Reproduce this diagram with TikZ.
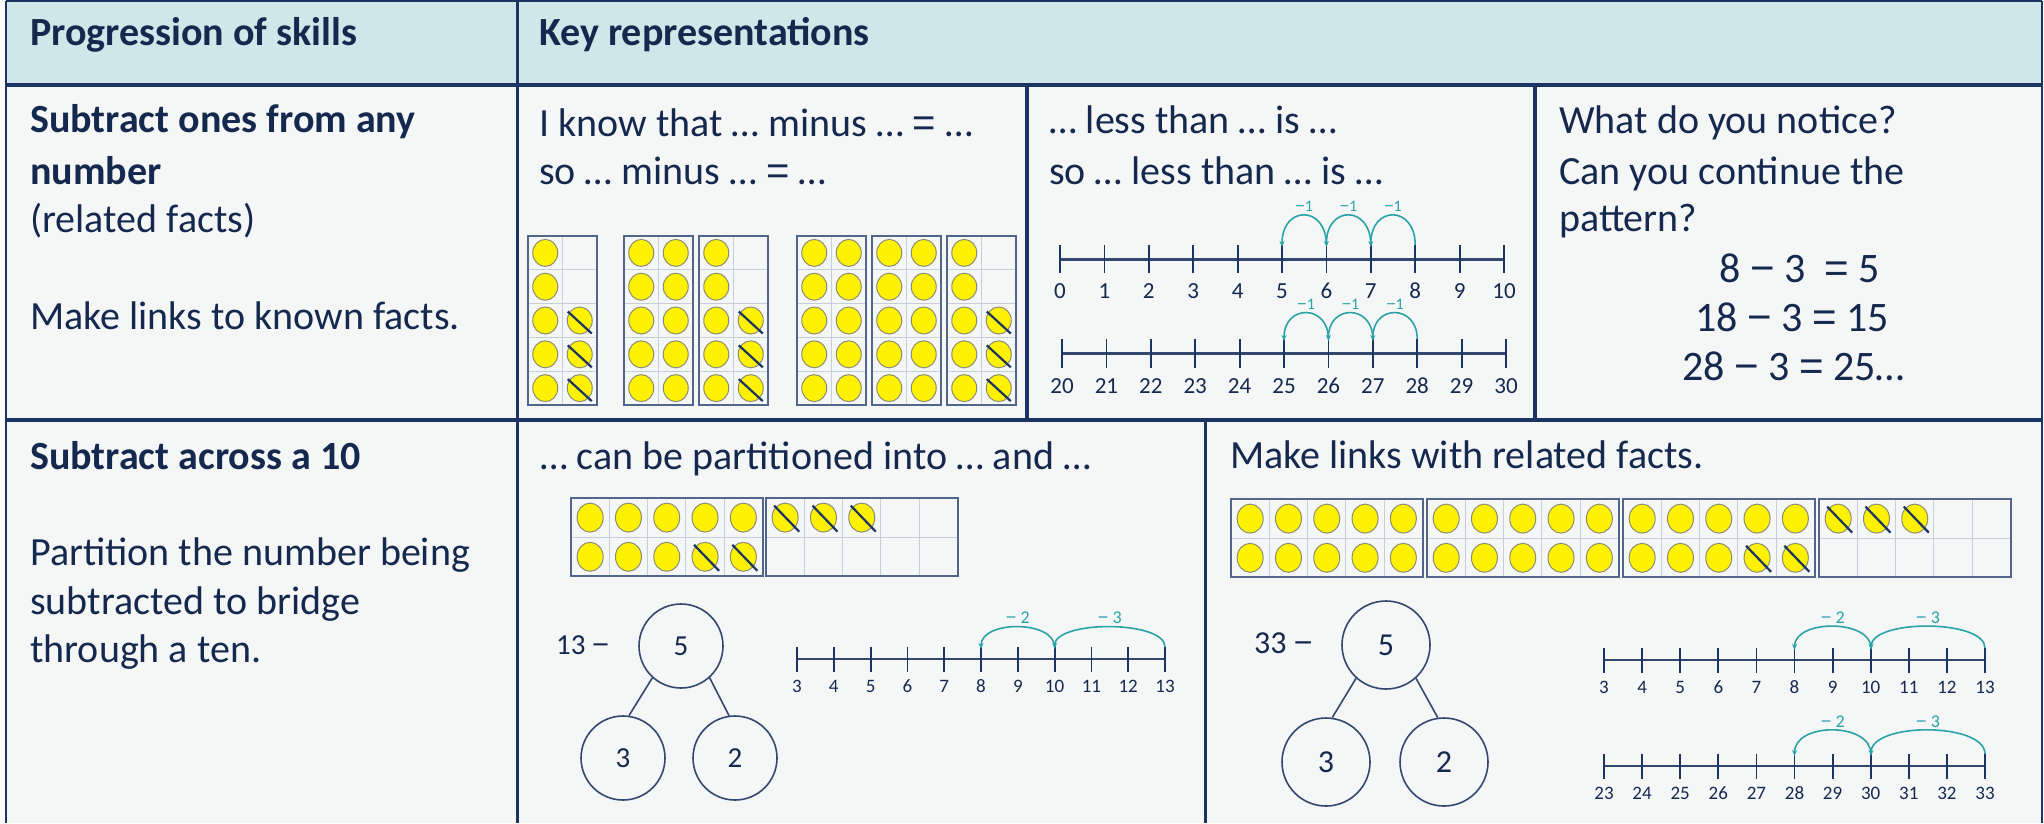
\documentclass[tikz,border=0pt]{standalone}
\usepackage{fontspec}
\setmainfont{Carlito}
\newfontfamily\symfont{Liberation Sans}
\usetikzlibrary{arrows.meta}
\definecolor{hdrfill}{HTML}{CFE7E8}
\definecolor{bodyfill}{HTML}{F5F7F7}
\definecolor{rulec}{HTML}{1C3461}
\definecolor{inkc}{HTML}{15294F}
\definecolor{jumpc}{HTML}{2AA3A6}
\definecolor{framec}{HTML}{52668C}
\definecolor{gridc}{HTML}{C6CDD8}
\definecolor{nlc}{HTML}{34486F}
\definecolor{dotedge}{HTML}{8C8C74}
\newcommand\fsz[1]{\fontsize{#1}{#1}\selectfont}
\newcommand\mns{{\symfont −}}
\newcommand\eqs{{\symfont =}}

% row-1 ten frames (vertical 2 x 5)
\newcommand\frameA[2]{\draw[gridc,line width=1] (#1+34.5,#2) -- ++(0,169) foreach \j in {1,...,4} {(#1,#2+\j*33.8) -- ++(69,0)}; \draw[framec,line width=2] (#1,#2) rectangle ++(69,169);}
\newcommand\dotA[4]{\path[counter] (#1+17.25+#3*34.5,#2+16.9+#4*33.8) ellipse[x radius=12.5pt,y radius=13.5pt];}
\newcommand\xdotA[4]{\dotA{#1}{#2}{#3}{#4}\draw[crossln] (#1+17.25+#3*34.5-12,#2+16.9+#4*33.8-9) -- ++(24,22);}
% row-2 ten frames (horizontal 5 x 2)
\newcommand\frameB[2]{\draw[gridc,line width=1] foreach \j in {1,...,4} {(#1+\j*38.3,#2) -- ++(0,78.4)} (#1,#2+39.2) -- ++(191.5,0); \draw[framec,line width=2] (#1,#2) rectangle ++(191.5,78.4);}
\newcommand\dotB[4]{\path[counter] (#1+19.15+#3*38.3,#2+19.6+#4*39.2) ellipse[x radius=13pt,y radius=14.5pt];}
\newcommand\xdotB[4]{\dotB{#1}{#2}{#3}{#4}\draw[crossln] (#1+19.15+#3*38.3-11,#2+19.6+#4*39.2-12) -- ++(25,26);}
% number line: x0, y, dx, tick half, first value, label offset, label size, name prefix, line width
\newcommand\nline[9]{%
  \draw[nlc,line width=#9] (#1,#2) -- (#1+10*#3,#2);
  \foreach \i [evaluate=\i as \v using int(#5+\i)] in {0,...,10} {%
    \draw[rulec,line width=1.8] (#1+\i*#3,#2-#4) -- (#1+\i*#3,#2+#4);
    \node[anchor=base,inner sep=0,text=inkc,font=\fsz{#7}] (#8\v) at (#1+\i*#3,#2+#6) {\v};}}
% jump: x start, x end, y base, control y, label, label baseline, label size
\newcommand\jump[7]{%
  \draw[jumpln] (#1,#3) .. controls (#1,#4) and (#2,#4) .. (#2,#3+2);
  \node[anchor=base,inner sep=0,text=jumpc,font=\fsz{#7}] at ({(#1+#2)/2},#6) {#5};}

\begin{document}
\begin{tikzpicture}[x=1pt,y=-1pt,
  txt/.style={anchor=base west,inner sep=0,text=inkc,font=\fsz{40}},
  btxt/.style={txt,font=\fsz{40}\bfseries},
  eqn/.style={anchor=base west,inner sep=0,text=inkc,font=\fsz{42}},
  counter/.style={fill=yellow,draw=dotedge,line width=1},
  crossln/.style={rulec,line width=2.2},
  jumpln/.style={jumpc,line width=1.6,-{Stealth[length=6pt,width=5pt]}},
  bond/.style={circle,draw=nlc,line width=1.6,fill=bodyfill,text=inkc,inner sep=0},
  bondln/.style={nlc,line width=1.6}]
\useasboundingbox (0,0) rectangle (2044,823);
% backgrounds
\fill[hdrfill] (6,1) rectangle (2042,85);
\fill[bodyfill] (6,85) rectangle (2042,823);
% rules
\draw[rulec,line width=2] (6,1) -- (2042,1);
\draw[rulec,line width=2.5] (6,1) -- (6,823);
\draw[rulec,line width=1.5] (2042,1) -- (2042,823);
\draw[rulec,line width=4] (6,85) -- (2042,85);
\draw[rulec,line width=4] (6,420) -- (2042,420);
\draw[rulec,line width=3] (517,1) -- (517,823);
\draw[rulec,line width=4] (1027,85) -- (1027,420);
\draw[rulec,line width=3.5] (1535,85) -- (1535,420);
\draw[rulec,line width=3] (1205,420) -- (1205,823);

% header
\node[btxt] (h1) at (30,45) {Progression of skills};
\node[btxt] (h2) at (539,45) {Key representations};

% row 1 left
\node[btxt] (a1) at (30,132) {Subtract ones from any};
\node[btxt] (a2) at (30,184) {number};
\node[txt] (a3) at (30,232) {(related facts)};
\node[txt] (a4) at (30,329) {Make links to known facts.};

% row 1 box 2
\node[txt] (b1) at (539,136) {I know that … minus … \eqs{} …};
\node[txt] (b2) at (539,184) {so … minus … \eqs{} …};
\frameA{528}{236}
\foreach \r in {0,...,4} {\dotA{528}{236}{0}{\r}}
\foreach \r in {2,3,4} {\xdotA{528}{236}{1}{\r}}
\frameA{624}{236}
\foreach \c in {0,1} {\foreach \r in {0,...,4} {\dotA{624}{236}{\c}{\r}}}
\frameA{699}{236}
\foreach \r in {0,...,4} {\dotA{699}{236}{0}{\r}}
\foreach \r in {2,3,4} {\xdotA{699}{236}{1}{\r}}
\frameA{797}{236}
\foreach \c in {0,1} {\foreach \r in {0,...,4} {\dotA{797}{236}{\c}{\r}}}
\frameA{872}{236}
\foreach \c in {0,1} {\foreach \r in {0,...,4} {\dotA{872}{236}{\c}{\r}}}
\frameA{947}{236}
\foreach \r in {0,...,4} {\dotA{947}{236}{0}{\r}}
\foreach \r in {2,3,4} {\xdotA{947}{236}{1}{\r}}

% row 1 box 3
\node[txt] (c1) at (1049,133) {… less than … is …};
\node[txt] (c2) at (1049,184) {so … less than … is …};
\nline{1060}{259}{44.4}{14}{0}{39}{23}{p}{3}
\jump{1415.2}{1370.8}{245}{205}{\mns1}{211}{16}
\jump{1370.8}{1326.4}{245}{205}{\mns1}{211}{16}
\jump{1326.4}{1282}{245}{205}{\mns1}{211}{16}
\nline{1062}{353}{44.4}{14.5}{20}{40}{23}{q}{3}
\jump{1417.2}{1372.8}{339}{304}{\mns1}{309}{16}
\jump{1372.8}{1328.4}{339}{304}{\mns1}{309}{16}
\jump{1328.4}{1284}{339}{304}{\mns1}{309}{16}

% row 1 box 4
\node[txt] (d1) at (1559,133) {What do you notice?};
\node[txt] (d2) at (1559,184) {Can you continue the};
\node[txt] (d3) at (1559,231) {pattern?};
\node[eqn] (e1) at (1719,282) {8 \mns{} 3 \ \eqs{} 5};
\node[eqn] (e2) at (1695,331) {18 \mns{} 3 \eqs{} 15};
\node[eqn] (e3) at (1682,380) {28 \mns{} 3 \eqs{} 25…};

% row 2 left
\node[btxt] (f1) at (30,469) {Subtract across a 10};
\node[txt] (f2) at (30,565) {Partition the number being};
\node[txt] (f3) at (30,614) {subtracted to bridge};
\node[txt] (f4) at (30,662) {through a ten.};

% row 2 box 2
\node[txt] (g1) at (540,469) {… can be partitioned into … and …};
\frameB{571}{498}
\foreach \c in {0,...,4} {\dotB{571}{498}{\c}{0}}
\foreach \c in {0,1,2} {\dotB{571}{498}{\c}{1}}
\foreach \c in {3,4} {\xdotB{571}{498}{\c}{1}}
\frameB{766}{498}
\foreach \c in {0,1,2} {\xdotB{766}{498}{\c}{0}}
\node[anchor=west,inner sep=0,text=inkc,font=\fsz{29}] (g2) at (556,645) {13 \mns};
\node[bond,minimum size=84pt,font=\fsz{29}] (g5) at (681,646) {5};
\node[bond,minimum size=84pt,font=\fsz{29}] (g3) at (623,758) {3};
\node[bond,minimum size=84pt,font=\fsz{29}] (g4) at (735,758) {2};
\draw[bondln] (g5.228) -- (g3.82);
\draw[bondln] (g5.312) -- (g4.98);
\nline{797}{659}{36.8}{12.5}{3}{33}{19}{r}{2.5}
\jump{1165}{1054.6}{647}{620}{\mns{} 3}{623}{18}
\jump{1054.6}{981}{647}{620}{\mns{} 2}{623}{18}

% row 2 box 3
\node[txt] (k1) at (1230,468) {Make links with related facts.};
\frameB{1231}{499}
\foreach \c in {0,...,4} {\foreach \r in {0,1} {\dotB{1231}{499}{\c}{\r}}}
\frameB{1427}{499}
\foreach \c in {0,...,4} {\foreach \r in {0,1} {\dotB{1427}{499}{\c}{\r}}}
\frameB{1623}{499}
\foreach \c in {0,...,4} {\dotB{1623}{499}{\c}{0}}
\foreach \c in {0,1,2} {\dotB{1623}{499}{\c}{1}}
\foreach \c in {3,4} {\xdotB{1623}{499}{\c}{1}}
\frameB{1819}{499}
\foreach \c in {0,1,2} {\xdotB{1819}{499}{\c}{0}}
\node[anchor=west,inner sep=0,text=inkc,font=\fsz{32}] (k2) at (1254,643) {33 \mns};
\node[bond,minimum size=88pt,font=\fsz{32}] (k5) at (1386,645) {5};
\node[bond,minimum size=88pt,font=\fsz{32}] (k3) at (1326,762) {3};
\node[bond,minimum size=88pt,font=\fsz{32}] (k4) at (1444,762) {2};
\draw[bondln] (k5.228) -- (k3.82);
\draw[bondln] (k5.312) -- (k4.98);
\nline{1604}{660}{38.1}{12.5}{3}{33}{19}{s}{2.5}
\jump{1985}{1871}{648}{619}{\mns{} 3}{623}{18}
\jump{1871}{1794.5}{648}{619}{\mns{} 2}{623}{18}
\nline{1604}{766}{38.1}{12.5}{23}{33}{19}{t}{2.5}
\jump{1985}{1871}{754}{722}{\mns{} 3}{727}{18}
\jump{1871}{1794.5}{754}{722}{\mns{} 2}{727}{18}
\end{tikzpicture}
\end{document}
